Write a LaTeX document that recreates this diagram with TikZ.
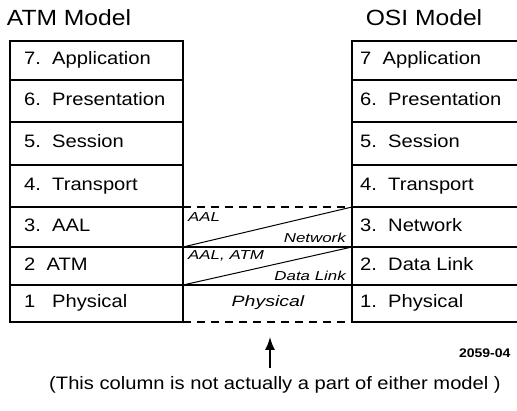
\documentclass[tikz,border=0pt]{standalone}
\usepackage{fontspec}
\setmainfont{Liberation Sans}[FakeStretch=1.12]
\newfontfamily\peerfont{Liberation Sans}[FakeStretch=1.3]
\usetikzlibrary{arrows.meta}

\begin{document}
\begin{tikzpicture}[x=1pt,y=-1pt,
    layer/.style={anchor=west,inner sep=0pt,text height=13pt,text depth=4pt,
      font=\fontsize{18}{20}\selectfont},
    peer/.style={inner sep=0pt,font=\peerfont\itshape\fontsize{13}{15}\selectfont},
    stack/.style={line width=1.4pt}]
    \useasboundingbox (0,0) rectangle (517,411);
    % titles
    \node[font=\fontsize{22}{24}\selectfont] (atmtitle) at (69,18) {ATM Model};
    \node[font=\fontsize{22}{24}\selectfont] (osititle) at (424,18) {OSI Model};
    % ATM stack
    \draw[stack] (10,41) rectangle (183,322);
    \draw[stack] (10,80) -- (183,80) (10,122) -- (183,122) (10,165) -- (183,165)
      (10,207) -- (183,207) (10,247) -- (183,247) (10,285) -- (183,285);
    \node[layer] (a7) at (24,60) {7.~~Application};
    \node[layer] (a6) at (24,101) {6.~~Presentation};
    \node[layer] (a5) at (24,143) {5.~~Session};
    \node[layer] (a4) at (24,186) {4.~~Transport};
    \node[layer] (a3) at (24,227) {3.~~AAL};
    \node[layer] (a2) at (24,266) {2~~ATM};
    \node[layer] (a1) at (24,303) {1~~~Physical};
    % OSI stack
    \draw[stack] (352,41) rectangle (530,322);
    \draw[stack] (352,80) -- (530,80) (352,122) -- (530,122) (352,165) -- (530,165)
      (352,207) -- (530,207) (352,247) -- (530,247) (352,285) -- (530,285);
    \node[layer] (o7) at (360,60) {7~~Application};
    \node[layer] (o6) at (360,101) {6.~~Presentation};
    \node[layer] (o5) at (360,143) {5.~~Session};
    \node[layer] (o4) at (360,186) {4.~~Transport};
    \node[layer] (o3) at (360,227) {3.~~Network};
    \node[layer] (o2) at (360,266) {2.~~Data Link};
    \node[layer] (o1) at (360,303) {1.~~Physical};
    % middle column
    \draw[stack,dash pattern=on 8pt off 6pt] (183,207) -- (352,207);
    \draw[stack,dash pattern=on 8pt off 6pt] (183,322) -- (352,322);
    \draw[stack] (183,247) -- (352,247) (183,285) -- (352,285);
    \draw[line width=1pt] (183,247) -- (352,207);
    \draw[line width=1pt] (183,285) -- (352,247);
    \node[peer,anchor=west] (aal) at (188,217) {AAL};
    \node[peer,anchor=east] (net) at (346,238) {Network};
    \node[peer,anchor=west] (aalatm) at (188,256) {AAL, ATM};
    \node[peer,anchor=east] (dlink) at (346,276) {Data Link};
    \node[peer,font=\peerfont\itshape\fontsize{15}{17}\selectfont] (phys) at (268,303) {Physical};
    % note
    \node[anchor=east,font=\bfseries\fontsize{12.5}{15}\selectfont] (fig) at (514,353) {2059-04};
    \node[font=\fontsize{18}{20}\selectfont] (note) at (275,385) {(This column is not actually a part of either model )};
    \coordinate (tail) at (270,368);
    \coordinate (tip) at (270,337);
    \draw[line width=1.5pt,-{Latex[length=13pt,width=10pt]}] (tail) -- (tip);
\end{tikzpicture}
\end{document}
